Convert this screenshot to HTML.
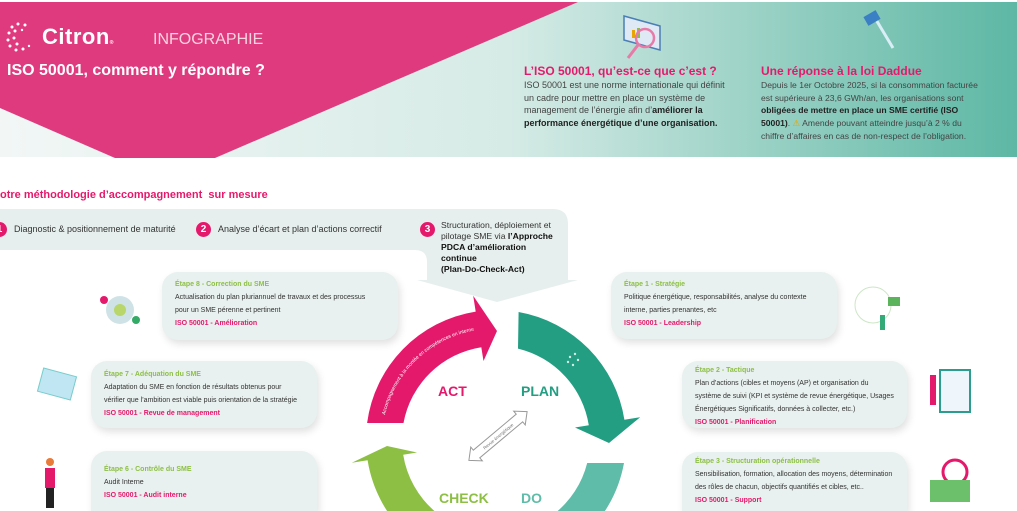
<!DOCTYPE html>
<html style="width:1017px;height:511px;overflow:hidden"><head><meta charset="utf-8">
<style>
*{margin:0;padding:0;box-sizing:border-box}
body{width:1017px;height:511px;overflow:hidden;background:#fff;font-family:"Liberation Sans",sans-serif;position:relative}
.abs{position:absolute;white-space:nowrap}
.card{position:absolute;background:#e8f1ef;border-radius:16px;box-shadow:2px 4px 8px rgba(0,0,0,0.12);padding:10px 13px;font-size:7px;color:#333;line-height:13px;white-space:nowrap;overflow:hidden}
.card .t{color:#8dbf45;font-weight:bold}
.card .i{color:#e5196b;font-weight:bold}
.num{position:absolute;width:15px;height:15px;border-radius:50%;background:#e5196b;color:#fff;font-weight:bold;font-size:10px;text-align:center;line-height:15px}
.row{position:absolute;font-size:9px;color:#333;white-space:nowrap}
</style></head><body>
<svg class="abs" style="left:0;top:0" width="1017" height="511">
<defs>
<linearGradient id="hg" x1="0" x2="1" y1="0" y2="0">
<stop offset="0" stop-color="#f2f7f6"/><stop offset="0.5" stop-color="#d6ebe6"/><stop offset="1" stop-color="#5db7a4"/>
</linearGradient>
</defs>
<rect x="0" y="2" width="1017" height="155" fill="url(#hg)"/>
<polygon points="0,2 578,2 215,158 115,158 0,108" fill="#e03a7e"/>
<path d="M0,209 H553 Q568,209 568,224 V280 H578 L497,302 L417,280 H427 V262 Q427,250 415,250 H0 Z" fill="#e6efed"/>
<path d="M518.6,312 A130,130 0 0 1 624.4,419.7 L640.2,417.2 L609,443 L575,427.5 L588.8,425.3 A94,94 0 0 0 518,348.6 Z" fill="#239e82"/>
<path d="M624,463 A130,130 0 0 1 496,570 L496,534 A94,94 0 0 0 587.2,463 Z" fill="#5fbca8"/>
<path d="M496,570 A130,130 0 0 1 367.6,460.3 L351.8,462.8 L387,446 L417,452.5 L403.2,454.7 A94,94 0 0 0 496,534 Z" fill="#8dbf45"/>
<path d="M367.1,423 A130,130 0 0 1 475.7,311.6 L473.2,295.8 L497,331 L483.5,361 L481.3,347.2 A94,94 0 0 0 403.5,423 Z" fill="#e5196b"/>
<text x="438" y="396" font-family="Liberation Sans" font-weight="bold" font-size="14" fill="#e5196b">ACT</text>
<text x="521" y="396" font-family="Liberation Sans" font-weight="bold" font-size="14" fill="#239e82">PLAN</text>
<text x="439" y="503" font-family="Liberation Sans" font-weight="bold" font-size="14" fill="#8dbf45">CHECK</text>
<text x="521" y="503" font-family="Liberation Sans" font-weight="bold" font-size="14" fill="#5fbca8">DO</text>
<g transform="translate(498,436) rotate(-40)">
<path d="M-38,0 L-28,-9 L-28,-5 L28,-5 L28,-9 L38,0 L28,9 L28,5 L-28,5 L-28,9 Z" fill="#fff" stroke="#999" stroke-width="1"/>
<text x="0" y="2" font-size="4.5" text-anchor="middle" fill="#777" font-family="Liberation Sans">Revue énergétique</text>
</g>
<path id="actp" d="M385,415 A112,112 0 0 1 478,330" fill="none"/>
<text font-size="5" fill="#fff" font-family="Liberation Sans"><textPath href="#actp">Accompagnement à la montée en compétences en interne</textPath></text>
<g fill="#fff" opacity="0.8"><circle cx="570" cy="357" r="1.2"/><circle cx="575" cy="354" r="1.2"/><circle cx="568" cy="362" r="1.2"/><circle cx="573" cy="365" r="1.2"/><circle cx="578" cy="360" r="1.2"/></g>
<g fill="#fff"><circle cx="12" cy="27" r="1.5"/><circle cx="18" cy="24" r="1.5"/><circle cx="25" cy="25" r="1.5"/><circle cx="9" cy="33" r="1.5"/><circle cx="15" cy="31" r="1.5"/><circle cx="22" cy="30" r="1.2"/><circle cx="8" cy="40" r="1.5"/><circle cx="14" cy="38" r="1.5"/><circle cx="10" cy="46" r="1.5"/><circle cx="17" cy="44" r="1.5"/><circle cx="16" cy="50" r="1.5"/><circle cx="23" cy="49" r="1.5"/><circle cx="29" cy="46" r="1.2"/></g>
<polygon points="624,16 660,26 660,50 624,40" fill="#dfe9f5" stroke="#4a7fb5" stroke-width="1.5"/>
<rect x="632" y="30" width="3" height="8" fill="#e8a400"/><rect x="637" y="28" width="3" height="10" fill="#8dbf45"/>
<circle cx="645" cy="38" r="9" fill="none" stroke="#e87aa8" stroke-width="2.5"/>
<line x1="638" y1="45" x2="628" y2="58" stroke="#e87aa8" stroke-width="3"/>
<line x1="875" y1="18" x2="893" y2="48" stroke="#d9eef6" stroke-width="3"/>
<rect x="865" y="13" width="14" height="10" fill="#3b7fc4" transform="rotate(-30 872 18)"/>
<circle cx="120" cy="310" r="14" fill="#cfe3e6"/><circle cx="120" cy="310" r="6" fill="#b8d66a"/>
<circle cx="104" cy="300" r="4" fill="#e5196b"/><circle cx="136" cy="320" r="4" fill="#3a6"/>
<rect x="40" y="372" width="34" height="24" fill="#bfe6f2" stroke="#7cc" transform="rotate(15 57 384)"/>
<rect x="45" y="468" width="10" height="20" fill="#e5196b"/><rect x="46" y="488" width="8" height="20" fill="#222"/><circle cx="50" cy="462" r="4" fill="#e87a3a"/>
<circle cx="873" cy="305" r="18" fill="none" stroke="#cde6c6" stroke-width="1"/><rect x="888" y="297" width="12" height="9" fill="#5bb35b"/><rect x="880" y="315" width="5" height="15" fill="#3a7"/>
<rect x="940" y="370" width="30" height="42" fill="#eef6fb" stroke="#2a9d8f" stroke-width="2"/><rect x="930" y="375" width="6" height="30" fill="#e5196b"/>
<circle cx="955" cy="472" r="12" fill="#fff" stroke="#e5196b" stroke-width="3"/><rect x="930" y="480" width="40" height="22" fill="#6cc06c"/>
</svg>
<div class="abs" style="left:42px;top:24px;color:#fff;font-weight:bold;font-size:22px;letter-spacing:0.5px">Citron<span style="font-size:5px">®</span></div>
<div class="abs" style="left:153px;top:31px;color:#f6d3e1;font-size:16px">INFOGRAPHIE</div>
<div class="abs" style="left:7px;top:62px;color:#fff;font-weight:bold;font-size:16px">ISO 50001, comment y répondre ?</div>
<div class="abs" style="left:524px;top:64px;color:#e5196b;font-weight:bold;font-size:12px">L’ISO 50001, qu’est-ce que c’est ?</div>
<div class="abs" style="left:524px;top:79px;color:#444;font-size:9px;line-height:12.7px">ISO 50001 est une norme internationale qui définit<br>un cadre pour mettre en place un système de<br>management de l’énergie afin d’<b style="color:#222">améliorer la</b><br><b style="color:#222">performance énergétique d’une organisation.</b></div>
<div class="abs" style="left:761px;top:64px;color:#e5196b;font-weight:bold;font-size:12px">Une réponse à la loi Daddue</div>
<div class="abs" style="left:761px;top:79px;color:#444;font-size:8.6px;line-height:12.7px">Depuis le 1er Octobre 2025, si la consommation facturée<br>est supérieure à 23,6 GWh/an, les organisations sont<br><b style="color:#222">obligées de mettre en place un SME certifié (ISO</b><br><b style="color:#222">50001)</b>. <span style="color:#e8a400">⚠</span> Amende pouvant atteindre jusqu’à 2 % du<br>chiffre d’affaires en cas de non-respect de l’obligation.</div>
<div class="abs" style="left:0;top:189px;color:#e5196b;font-weight:bold;font-size:11px">otre méthodologie d’accompagnement&nbsp; sur mesure</div>
<div class="num" style="left:-8px;top:222px">1</div>
<div class="row" style="left:14px;top:224px">Diagnostic &amp; positionnement de maturité</div>
<div class="num" style="left:196px;top:222px">2</div>
<div class="row" style="left:218px;top:224px">Analyse d’écart et plan d’actions correctif</div>
<div class="num" style="left:420px;top:222px">3</div>
<div class="row" style="left:441px;top:220px;line-height:11px;font-size:8.6px">Structuration, déploiement et<br>pilotage SME via <b style="color:#111">l’Approche</b><br><b style="color:#111">PDCA d’amélioration</b><br><b style="color:#111">continue</b><br><b style="color:#111">(Plan-Do-Check-Act)</b></div>
<div class="card" style="left:162px;top:272px;width:236px;height:68px;padding-top:6px"><div class="t">Étape 8 - Correction du SME</div>Actualisation du plan pluriannuel de travaux et des processus<br>pour un SME pérenne et pertinent<div class="i">ISO 50001 - Amélioration</div></div>
<div class="card" style="left:91px;top:361px;width:226px;height:67px;padding-top:7px"><div class="t">Étape 7 - Adéquation du SME</div>Adaptation du SME en fonction de résultats obtenus pour<br>vérifier que l’ambition est viable puis orientation de la stratégie<div class="i">ISO 50001 - Revue de management</div></div>
<div class="card" style="left:91px;top:451px;width:226px;height:60px;padding-top:12px;border-bottom-left-radius:0;border-bottom-right-radius:0"><div class="t">Étape 6 - Contrôle du SME</div>Audit Interne<div class="i">ISO 50001 - Audit interne</div></div>
<div class="card" style="left:611px;top:272px;width:226px;height:67px;padding-top:6px"><div class="t">Étape 1 - Stratégie</div>Politique énergétique, responsabilités, analyse du contexte<br>interne, parties prenantes, etc<div class="i">ISO 50001 - Leadership</div></div>
<div class="card" style="left:682px;top:361px;width:225px;height:67px;padding-top:3px"><div class="t">Étape 2 - Tactique</div>Plan d’actions (cibles et moyens (AP) et organisation du<br>système de suivi (KPI et système de revue énergétique, Usages<br>Énergétiques Significatifs, données à collecter, etc.)<div class="i">ISO 50001 - Planification</div></div>
<div class="card" style="left:682px;top:452px;width:225px;height:59px;padding-top:3px;border-bottom-left-radius:0;border-bottom-right-radius:0"><div class="t">Étape 3 - Structuration opérationnelle</div>Sensibilisation, formation, allocation des moyens, détermination<br>des rôles de chacun, objectifs quantifiés et cibles, etc..<div class="i">ISO 50001 - Support</div></div>
</body></html>
